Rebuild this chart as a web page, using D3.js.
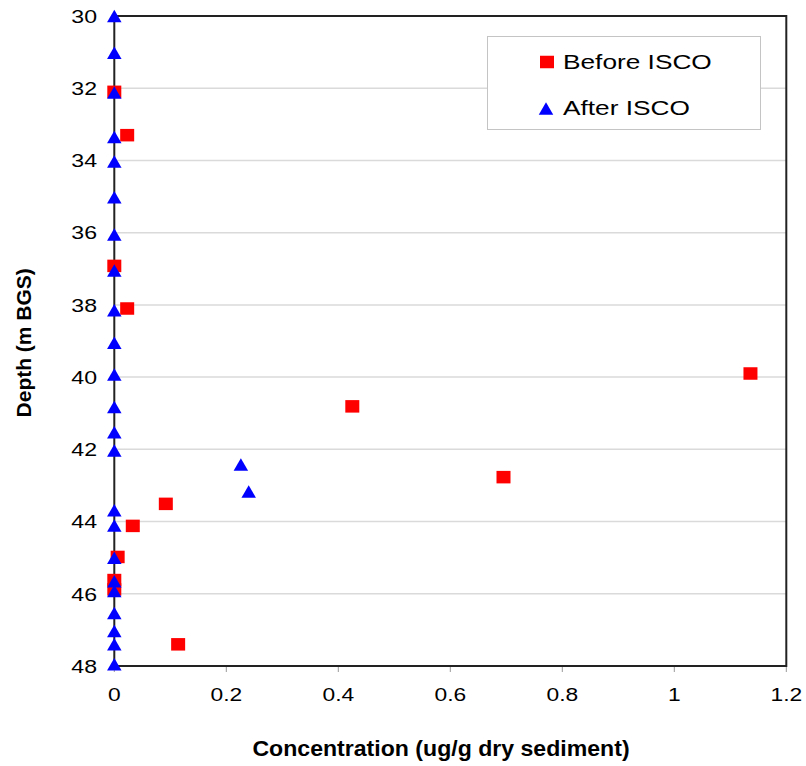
<!DOCTYPE html>
<html>
<head>
<meta charset="utf-8">
<script src="https://cdn.jsdelivr.net/npm/d3@7/dist/d3.min.js"></script>
<style>
body { margin:0; background:#fff; }
text { font-family:"Liberation Sans", Arial, Helvetica, sans-serif; fill:#000; }
</style>
</head>
<body>
<script>
// DATA

var before_conc  = [0, 0.023, 0, 0.023, 1.136, 0.425, 0.695, 0.092, 0.033, 0.006, 0, 0, 0.114];
var before_depth = [32.1, 33.3, 36.92, 38.1, 39.9, 40.81, 42.77, 43.51, 44.12, 44.98, 45.62, 45.88, 47.4];

var after_conc  = [0, 0, 0, 0, 0, 0, 0, 0, 0, 0, 0, 0, 0, 0, 0.226, 0.24, 0, 0, 0, 0, 0, 0, 0, 0, 0];
var after_depth = [30, 31.02, 32.12, 33.35, 34.03, 35.02, 36.05, 37.05, 38.15, 39.05, 39.93, 40.83, 41.53, 42.03,
                   42.42, 43.17, 43.69, 44.11, 45.0, 45.65, 45.92, 46.53, 47.03, 47.4, 47.95];

var x_ticks = [0, 0.2, 0.4, 0.6, 0.8, 1, 1.2];
var y_ticks = [30, 32, 34, 36, 38, 40, 42, 44, 46, 48];

var series_names = ["Before ISCO", "After ISCO"];

// CHART SETUP

var width = 806;
var height = 766;

var plot = {"left":114.3, "right":786.3, "top":16, "bottom":666};

var x = d3.scaleLinear().domain([0, 1.2]).range([plot.left, plot.right]);
var y = d3.scaleLinear().domain([30, 48]).range([plot.top, plot.bottom]);

var svg = d3.select("body")
			.append("svg")
			.attr("width", width)
			.attr("height", height);

// gridlines (horizontal only)
svg.selectAll("line.grid")
	.data(y_ticks.slice(1, -1))
	.enter()
	.append("line")
	.attr("class", "grid")
	.attr("x1", plot.left)
	.attr("x2", plot.right)
	.attr("y1", function(d){return y(d)})
	.attr("y2", function(d){return y(d)})
	.attr("stroke", "#dadada")
	.attr("stroke-width", 1.5);

// x tick marks
svg.selectAll("line.xtick")
	.data(x_ticks)
	.enter()
	.append("line")
	.attr("class", "xtick")
	.attr("x1", function(d){return x(d)})
	.attr("x2", function(d){return x(d)})
	.attr("y1", plot.bottom)
	.attr("y2", plot.bottom + 6)
	.attr("stroke", "#999")
	.attr("stroke-width", 1);

// plot frame
svg.append("rect")
	.attr("x", plot.left)
	.attr("y", plot.top)
	.attr("width", plot.right - plot.left)
	.attr("height", plot.bottom - plot.top)
	.attr("fill", "none")
	.attr("stroke", "#222")
	.attr("stroke-width", 2);

// tick labels (the source is a bit stretched sideways)
svg.selectAll("text.xlab")
	.data(x_ticks)
	.enter()
	.append("text")
	.attr("class", "xlab")
	.attr("text-anchor", "middle")
	.attr("font-size", 19)
	.attr("transform", function(d){return "translate(" + x(d) + "," + 701 + ") scale(1.2,1)"})
	.text(function(d){return d});

svg.selectAll("text.ylab")
	.data(y_ticks)
	.enter()
	.append("text")
	.attr("class", "ylab")
	.attr("text-anchor", "end")
	.attr("font-size", 18.5)
	.attr("transform", function(d){return "translate(" + 97 + "," + (y(d) + 6.8) + ") scale(1.25,1)"})
	.text(function(d){return d});

// axis titles
svg.append("text")
	.attr("text-anchor", "middle")
	.attr("font-size", 22)
	.attr("font-weight", "bold")
	.attr("transform", "translate(441,756) scale(1.05,1)")
	.text("Concentration (ug/g dry sediment)");

svg.append("text")
	.attr("text-anchor", "middle")
	.attr("font-size", 21)
	.attr("font-weight", "bold")
	.attr("transform", "translate(31," + y(39.05) + ") rotate(-90)")
	.text("Depth (m BGS)");

// MARKERS

var square_w = 14, square_h = 12.5;
var tri_w = 14.5, tri_h = 12.5;

var before_points = before_conc.map(function(c, i){return {"x":c, "y":before_depth[i]}});
var after_points = after_conc.map(function(c, i){return {"x":c, "y":after_depth[i]}});

svg.selectAll("rect.before")
	.data(before_points)
	.enter()
	.append("rect")
	.attr("class", "before")
	.attr("x", function(d){return x(d.x) - square_w/2})
	.attr("y", function(d){return y(d.y) - square_h/2})
	.attr("width", square_w)
	.attr("height", square_h)
	.attr("fill", "#ff0000");

var triangle = function(cx, cy)
{
	return "M" + cx + "," + (cy - tri_h/2) +
		"L" + (cx + tri_w/2) + "," + (cy + tri_h/2) +
		"L" + (cx - tri_w/2) + "," + (cy + tri_h/2) + "Z";
}

svg.selectAll("path.after")
	.data(after_points)
	.enter()
	.append("path")
	.attr("class", "after")
	.attr("d", function(d){return triangle(x(d.x), y(d.y))})
	.attr("fill", "#0000ff");

// LEGEND

var legend = svg.append("g");

legend.append("rect")
	.attr("x", 487.5)
	.attr("y", 36.5)
	.attr("width", 273)
	.attr("height", 93)
	.attr("fill", "#fff")
	.attr("stroke", "#c4c4c4")
	.attr("stroke-width", 1);

legend.append("rect")
	.attr("x", 547 - square_w/2)
	.attr("y", 62 - square_h/2)
	.attr("width", square_w)
	.attr("height", square_h)
	.attr("fill", "#ff0000");

legend.append("path")
	.attr("d", triangle(546, 108.5))
	.attr("fill", "#0000ff");

legend.selectAll("text")
	.data(series_names)
	.enter()
	.append("text")
	.attr("font-size", 21)
	.attr("transform", function(d, i){return "translate(563," + (68.5 + i*46.5) + ") scale(1.25,1)"})
	.text(function(d){return d});
</script>
</body>
</html>
